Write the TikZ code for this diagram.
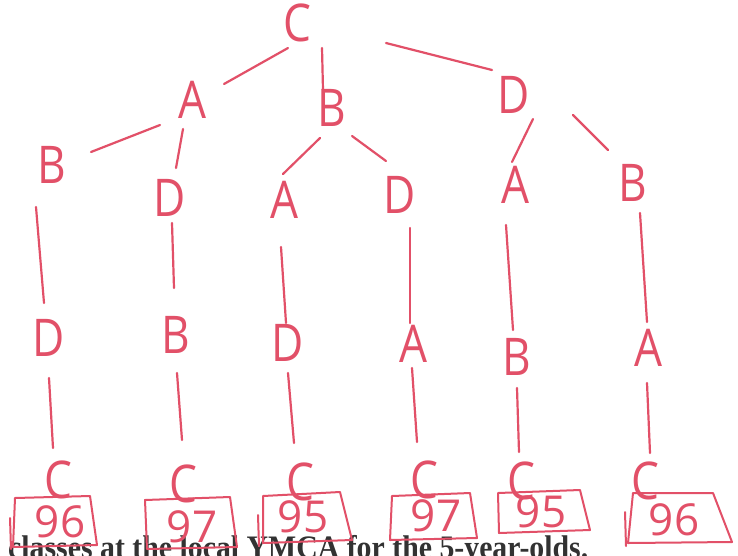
\documentclass[tikz,border=0pt]{standalone}
\usepackage{graphicx}
\usepackage{fontspec}
\setmainfont{Liberation Serif}
\newfontfamily\hand{Open Sans}
\usetikzlibrary{calc}
\definecolor{ink}{RGB}{226,80,104}
\definecolor{printgray}{RGB}{50,50,50}
\newcommand\handtxt[1]{\scalebox{0.85}[1]{#1}}
\begin{document}
\begin{tikzpicture}[x=1pt,y=-1pt,
  lett/.style={text=ink,font=\hand\fontsize{52}{52}\selectfont,inner sep=0pt},
  num/.style={text=ink,font=\hand\fontsize{44}{44}\selectfont,inner sep=0pt},
  edge/.style={draw=ink,line width=2.2pt,line cap=round},
  hbox/.style={draw=ink,line width=2pt,line join=round,line cap=round}]
\useasboundingbox[fill=white] (0,0) rectangle (738,555);

% printed caption (cut at the bottom edge)
\node[anchor=base west,text=printgray,inner sep=0pt] (cap) at (8,558)
  {\resizebox{580pt}{!}{\scalebox{1}[1.1]{\bfseries classes at the local YMCA for the 5-year-olds.}}};

% tree letters
\node[lett] (r)  at (297,23)  {\handtxt{C}};
\node[lett] (a)  at (192,100) {\handtxt{A}};
\node[lett] (b)  at (332,108) {\handtxt{B}};
\node[lett] (d)  at (514,95)  {\handtxt{D}};
\node[lett] (ab) at (52,165)  {\handtxt{B}};
\node[lett] (ad) at (170,198) {\handtxt{D}};
\node[lett] (ba) at (284,200) {\handtxt{A}};
\node[lett] (bd) at (400,195) {\handtxt{D}};
\node[lett] (da) at (515,185) {\handtxt{A}};
\node[lett] (db) at (633,183) {\handtxt{B}};
\node[lett] (u1) at (49,338)  {\handtxt{D}};
\node[lett] (u2) at (176,335) {\handtxt{B}};
\node[lett] (u3) at (288,343) {\handtxt{D}};
\node[lett] (u4) at (413,344) {\handtxt{A}};
\node[lett] (u5) at (517,357) {\handtxt{B}};
\node[lett] (u6) at (648,348) {\handtxt{A}};
\node[lett] (c1) at (58,480)  {\handtxt{C}};
\node[lett] (c2) at (183,484) {\handtxt{C}};
\node[lett] (c3) at (300,482) {\handtxt{C}};
\node[lett] (c4) at (424,480) {\handtxt{C}};
\node[lett] (c5) at (521,481) {\handtxt{C}};
\node[lett] (c6) at (645,481) {\handtxt{C}};

% connectors
\draw[edge] ($(r)+(-9,25)$)  -- ($(a)+(32,-16)$);
\draw[edge] ($(r)+(25,25)$)  -- ($(b)+(-9,-18)$);
\draw[edge] ($(r)+(89,20)$)  -- ($(d)+(-22,-25)$);
\draw[edge] ($(a)+(-32,25)$) -- ($(ab)+(39,-13)$);
\draw[edge] ($(a)+(-9,29)$)  -- ($(ad)+(6,-30)$);
\draw[edge] ($(b)+(-12,30)$) -- ($(ba)+(-1,-26)$);
\draw[edge] ($(b)+(20,28)$)  -- ($(bd)+(-14,-34)$);
\draw[edge] ($(d)+(19,24)$)  -- ($(da)+(-3,-23)$);
\draw[edge] ($(d)+(59,20)$)  -- ($(db)+(-25,-33)$);
\draw[edge] ($(ab)+(-16,42)$) -- ($(u1)+(-5,-35)$);
\draw[edge] ($(ad)+(2,25)$)  -- ($(u2)+(-2,-47)$);
\draw[edge] ($(ba)+(-3,47)$) -- ($(u3)+(-2,-20)$);
\draw[edge] ($(bd)+(10,33)$) -- ($(u4)+(-3,-21)$);
\draw[edge] ($(da)+(-9,40)$) -- ($(u5)+(-4,-27)$);
\draw[edge] ($(db)+(7,30)$)  -- ($(u6)+(-1,-26)$);
\draw[edge] ($(u1)+(0,40)$)  -- ($(c1)+(-5,-32)$);
\draw[edge] ($(u2)+(1,38)$)  -- ($(c2)+(-1,-44)$);
\draw[edge] ($(u3)+(0,30)$)  -- ($(c3)+(-6,-39)$);
\draw[edge] ($(u4)+(-1,24)$) -- ($(c4)+(-7,-38)$);
\draw[edge] ($(u5)+(0,31)$)  -- ($(c5)+(-2,-29)$);
\draw[edge] ($(u6)+(-1,35)$) -- ($(c6)+(5,-28)$);

% score boxes
\draw[hbox] (15,498) -- (90,496) -- (97,545) -- (13,547) -- cycle;
\draw[hbox] (10,518) -- (11,549);
\draw[hbox] (145,500) -- (230,497) -- (237,547) -- (147,549) -- cycle;
\draw[hbox] (263,496) -- (340,492) -- (352,540) -- (263,543) -- cycle;
\draw[hbox] (258,515) -- (259,546);
\draw[hbox] (392,496) -- (470,493) -- (477,538) -- (390,540) -- cycle;
\draw[hbox] (498,493) -- (580,490) -- (590,530) -- (499,533) -- cycle;
\draw[hbox] (633,493) -- (713,493) -- (732,542) -- (628,543) -- cycle;
\draw[hbox] (625,512) -- (626,546);

\node[num] (s1) at (60,522)  {96};
\node[num] (s2) at (192,527) {97};
\node[num] (s3) at (303,517) {95};
\node[num] (s4) at (436,516) {97};
\node[num] (s5) at (541,512) {95};
\node[num] (s6) at (674,520) {96};
\end{tikzpicture}
\end{document}
